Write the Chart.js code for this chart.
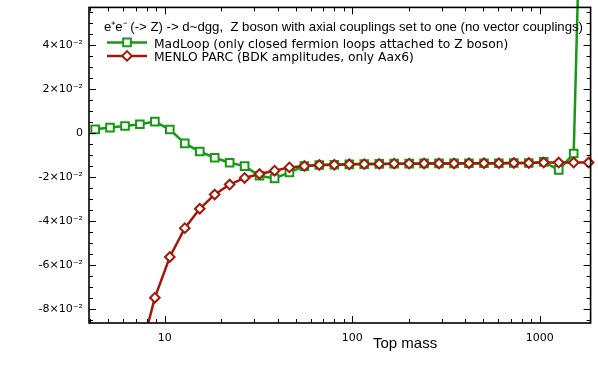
<!DOCTYPE html>
<html>
<head>
<meta charset="utf-8">
<script src="https://cdn.jsdelivr.net/npm/chart.js@4/dist/chart.umd.min.js"></script>
<style>
  html, body { margin: 0; padding: 0; background: #fff; }
  #wrap { width: 598px; height: 368px; }
</style>
</head>
<body>
<div id="wrap"><canvas id="c" width="598" height="368"></canvas></div>
<script>
// ---- data ----
const topMass = [4.25, 5.1, 6.13, 7.36, 8.85, 10.63, 12.78, 15.36, 18.45, 22.17,
  26.64, 32.0, 38.5, 46.2, 55.5, 66.7, 80.2, 96.4, 115.8, 139.2,
  167.2, 201, 241.5, 290, 349, 419, 504, 605, 727, 874,
  1050, 1262, 1517, 1823];
const madLoop = [0.0016, 0.0024, 0.0031, 0.0039, 0.0051, 0.0015, -0.0048, -0.0085, -0.0113, -0.0136,
  -0.0151, -0.0195, -0.0207, -0.0180, -0.0151, -0.0146, -0.0145, -0.0143, -0.0142, -0.0141,
  -0.0140, -0.0140, -0.0139, -0.0139, -0.0139, -0.0138, -0.0138, -0.0138, -0.0137, -0.0137,
  -0.0132, -0.0168, -0.0094, 0.25];
const menlo = [-0.27, -0.19, -0.138, -0.101, -0.0749, -0.0564, -0.0433, -0.0345, -0.0280, -0.0235,
  -0.0205, -0.0187, -0.0172, -0.0157, -0.0151, -0.0146, -0.0145, -0.0143, -0.0142, -0.0141,
  -0.0140, -0.0140, -0.0139, -0.0139, -0.0139, -0.0138, -0.0138, -0.0138, -0.0137, -0.0137,
  -0.0135, -0.0135, -0.0135, -0.0135];
const xTickValues = [10, 100, 1000];
const xTickLabels = ['10', '100', '1000'];
const yTickValues = [-0.08, -0.06, -0.04, -0.02, 0, 0.02, 0.04];
const yTickLabels = ['-8×10⁻²', '-6×10⁻²', '-4×10⁻²', '-2×10⁻²', '0', '2×10⁻²', '4×10⁻²'];
const xMinorTicks = [4, 5, 6, 7, 8, 9, 20, 30, 40, 50, 60, 70, 80, 90, 200, 300, 400, 500, 600, 700, 800, 900];
const yMinorTicks = [];
for (let i = -17; i <= 11; i++) { if (i % 4 !== 0) yMinorTicks.push(i * 0.005); }
const titleText = 'e⁺e⁻ (-> Z) -> d~dgg,  Z boson with axial couplings set to one (no vector couplings)';
const seriesNames = ['MadLoop (only closed fermion loops attached to Z boson)', 'MENLO PARC (BDK amplitudes, only Aax6)'];
const xTitle = 'Top mass';

const GREEN = '#169a16';
const RED = '#a2190b';

function drawMarker(ctx, style, x, y, r, color) {
  ctx.save();
  ctx.fillStyle = '#fff';
  ctx.strokeStyle = color;
  ctx.lineWidth = 2;
  ctx.beginPath();
  if (style === 'rect') {
    const s = r / Math.SQRT2;
    ctx.rect(x - s, y - s, 2 * s, 2 * s);
  } else {
    ctx.moveTo(x, y - r); ctx.lineTo(x + r, y); ctx.lineTo(x, y + r); ctx.lineTo(x - r, y); ctx.closePath();
  }
  ctx.fill(); ctx.stroke();
  ctx.restore();
}

const framePlugin = {
  id: 'frame',
  afterDraw(chart) {
    const { ctx, chartArea: a, scales: { x, y } } = chart;
    ctx.save();
    ctx.strokeStyle = '#000';
    ctx.lineWidth = 1;
    const seg = (x1, y1, x2, y2) => { ctx.beginPath(); ctx.moveTo(x1, y1); ctx.lineTo(x2, y2); ctx.stroke(); };
    xTickValues.forEach(v => { const p = Math.round(x.getPixelForValue(v)) + 0.5; seg(p, a.bottom, p, a.bottom - 7); seg(p, a.top, p, a.top + 7); });
    xMinorTicks.forEach(v => { const p = Math.round(x.getPixelForValue(v)) + 0.5; if (p > a.left + 1 && p < a.right - 1) { seg(p, a.bottom, p, a.bottom - 4); seg(p, a.top, p, a.top + 4); } });
    yTickValues.forEach(v => { const p = Math.round(y.getPixelForValue(v)) + 0.5; seg(a.left, p, a.left + 7, p); seg(a.right, p, a.right - 7, p); });
    yMinorTicks.forEach(v => { const p = Math.round(y.getPixelForValue(v)) + 0.5; if (p > a.top + 1 && p < a.bottom - 1) { seg(a.left, p, a.left + 4, p); seg(a.right, p, a.right - 4, p); } });
    ctx.lineWidth = 1.6;
    ctx.strokeRect(a.left, a.top, a.right - a.left, a.bottom - a.top);

    // legend
    ctx.fillStyle = '#000';
    ctx.textBaseline = 'middle';
    ctx.textAlign = 'left';
    ctx.font = '13.2px "Liberation Sans", Arial, sans-serif';
    ctx.fillText(titleText, a.left + 15, a.top + 20);
    const rows = [{ c: GREEN, s: 'rect', r: 5.4, y: a.top + 35 }, { c: RED, s: 'diamond', r: 4.8, y: a.top + 48.5 }];
    ctx.font = '12.3px "DejaVu Sans", Verdana, sans-serif';
    rows.forEach((row, i) => {
      ctx.strokeStyle = row.c; ctx.lineWidth = 2.5;
      seg(a.left + 18, row.y, a.left + 58, row.y);
      drawMarker(ctx, row.s, a.left + 38, row.y, row.r, row.c);
      ctx.fillStyle = '#000';
      ctx.fillText(seriesNames[i], a.left + 65, row.y + 2);
    });
    // x axis title
    ctx.font = '15px "Liberation Sans", Arial, sans-serif';
    ctx.fillText(xTitle, 373, 344);
    ctx.restore();
  }
};

const chart = new Chart(document.getElementById('c'), {
  type: 'line',
  data: {
    datasets: [
      {
        label: seriesNames[1],
        data: topMass.map((m, i) => ({ x: m, y: menlo[i] })),
        borderColor: RED, borderWidth: 2.5,
        pointStyle: 'rectRot', pointRadius: 4.8, pointBorderWidth: 2,
        pointBackgroundColor: '#fff', pointBorderColor: RED,
        tension: 0, order: 1,
        clip: { left: 6, right: 6, top: 10, bottom: 0 }
      },
      {
        label: seriesNames[0],
        data: topMass.map((m, i) => ({ x: m, y: madLoop[i] })),
        borderColor: GREEN, borderWidth: 2.5,
        pointStyle: 'rect', pointRadius: 5.4, pointBorderWidth: 2,
        pointBackgroundColor: '#fff', pointBorderColor: GREEN,
        tension: 0, order: 2,
        clip: { left: 6, right: 6, top: 10, bottom: 0 }
      }
    ]
  },
  options: {
    responsive: false,
    animation: false,
    devicePixelRatio: 1,
    layout: { padding: { left: 0, right: 6, top: 6, bottom: 0 } },
    plugins: { legend: { display: false }, tooltip: { enabled: false }, title: { display: false } },
    scales: {
      x: {
        type: 'logarithmic',
        min: 3.94, max: 1867,
        grid: { display: false, drawTicks: false, tickLength: 0 },
        border: { display: false },
        afterBuildTicks: s => { s.ticks = xTickValues.map(v => ({ value: v })); },
        afterFit: s => { s.height = 45; s.paddingLeft = 0; s.paddingRight = 0; },
        ticks: {
          autoSkip: false, maxRotation: 0, padding: 9, color: '#000',
          font: { family: '"DejaVu Sans"', size: 11 },
          callback: (v) => { const i = xTickValues.indexOf(v); return i >= 0 ? xTickLabels[i] : ''; }
        }
      },
      y: {
        type: 'linear',
        min: -0.0864, max: 0.057,
        grid: { display: false, drawTicks: false, tickLength: 0 },
        border: { display: false },
        afterBuildTicks: s => { s.ticks = yTickValues.map(v => ({ value: v })); },
        afterFit: s => { s.width = 89; s.paddingTop = 0; s.paddingBottom = 0; },
        ticks: {
          autoSkip: false, padding: 6, color: '#000',
          font: { family: '"DejaVu Sans"', size: 11 },
          callback: (v) => { const i = yTickValues.findIndex(t => Math.abs(t - v) < 1e-9); return i >= 0 ? yTickLabels[i] : ''; }
        }
      }
    }
  },
  plugins: [framePlugin]
});
</script>
</body>
</html>
